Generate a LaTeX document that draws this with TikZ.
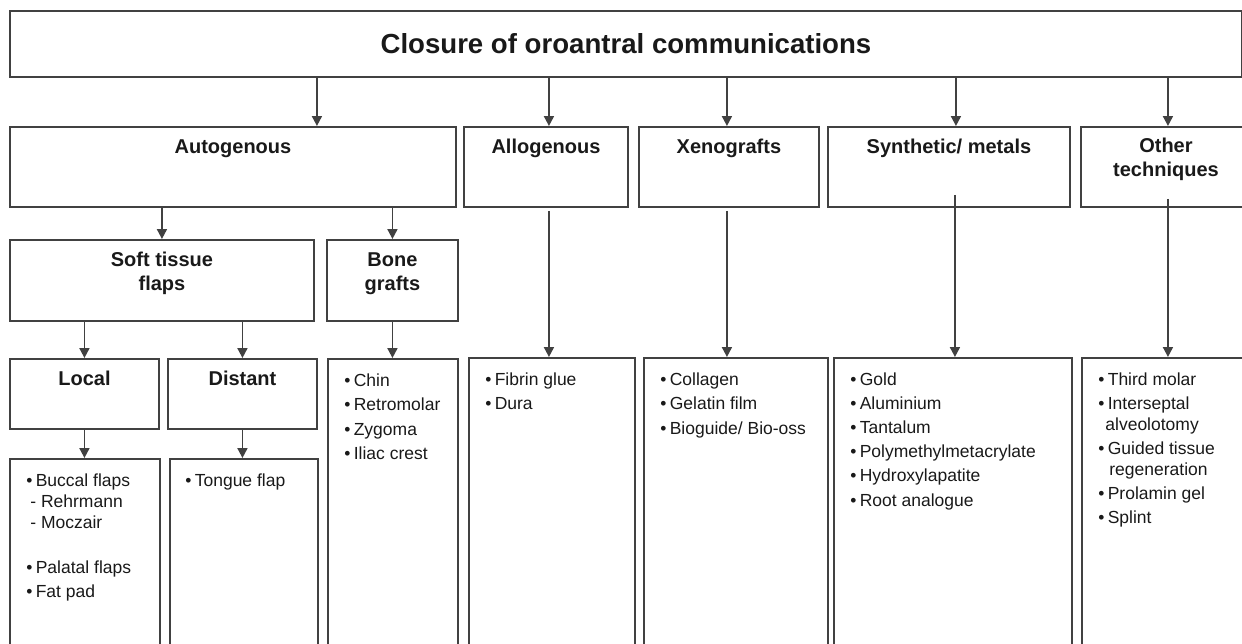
\documentclass[tikz,border=0pt]{standalone}
\usepackage{fontspec}
\setmainfont{Liberation Sans}
\usepackage{tikz}
\usetikzlibrary{arrows.meta}
\definecolor{linegray}{RGB}{65,65,65}
\definecolor{textgray}{RGB}{25,25,25}
\newcommand{\bul}{\makebox[4.7pt][l]{\textbullet}}
\tikzstyle{box} = [rectangle, draw=linegray, line width=0.95pt, anchor=north west, inner sep=0pt]
\tikzstyle{head} = [anchor=north, yshift=-6.5pt, inner sep=0pt, align=center, text=textgray, font=\bfseries\fontsize{10}{12}\selectfont]
\tikzstyle{items} = [anchor=north west, xshift=8.5pt, yshift=-7.5pt, inner sep=0pt, align=left, text=textgray, font=\fontsize{8.75}{10.5}\selectfont]
\tikzstyle{connect} = [line width=0.95pt, draw=linegray, -{Triangle[width=5pt,length=5pt]}]

\begin{document}
\begin{tikzpicture}[x=0.5pt, y=-0.5pt]
  \useasboundingbox (0,0) rectangle (1242,643);
  \clip (0,0) rectangle (1242,643);
  % top box
  \node (closure) [box, minimum width=616pt, minimum height=33pt, text=textgray, font=\bfseries\fontsize{13.8}{16}\selectfont] at (9,10) {Closure of oroantral communications};
  % second row
  \node (auto) [box, minimum width=223pt, minimum height=40pt, label={[head]north:Autogenous}] at (9,126) {};
  \node (allo) [box, minimum width=82pt, minimum height=40pt, label={[head]north:Allogenous}] at (463,126) {};
  \node (xeno) [box, minimum width=90pt, minimum height=40pt, label={[head]north:Xenografts}] at (638,126) {};
  \node (synth) [box, minimum width=121pt, minimum height=40pt, label={[head]north:Synthetic/ metals}] at (827,126) {};
  \node (other) [box, minimum width=85pt, minimum height=40pt, label={[head, yshift=0.5pt]north:Other\\techniques}] at (1080,126) {}; % runs past the edge
  % third row
  \node (soft) [box, minimum width=152pt, minimum height=40.5pt, label={[head]north:Soft tissue\\flaps}] at (9,239) {};
  \node (bone) [box, minimum width=65.5pt, minimum height=40.5pt, label={[head]north:Bone\\grafts}] at (326,239) {};
  % fourth row
  \node (local) [box, minimum width=74.5pt, minimum height=35pt, label={[head]north:Local}] at (9,358) {};
  \node (distant) [box, minimum width=74.5pt, minimum height=35pt, label={[head]north:Distant}] at (167,358) {};
  \node (bonelist) [box, minimum width=65pt, minimum height=150pt, label={[items]north west:{\bul Chin\\[1.75pt]\bul Retromolar\\[1.75pt]\bul Zygoma\\[1.75pt]\bul Iliac crest}}] at (327,358) {};
  \node (allolist) [box, minimum width=83pt, minimum height=150pt, label={[items]north west:{\bul Fibrin glue\\[1.75pt]\bul Dura}}] at (468,357) {};
  \node (xenolist) [box, minimum width=92pt, minimum height=150pt, label={[items]north west:{\bul Collagen\\[1.75pt]\bul Gelatin film\\[1.75pt]\bul Bioguide/ Bio-oss}}] at (643,357) {};
  \node (synthlist) [box, minimum width=119pt, minimum height=150pt, label={[items]north west:{\bul Gold\\[1.6pt]\bul Aluminium\\[1.6pt]\bul Tantalum\\[1.6pt]\bul Polymethylmetacrylate\\[1.6pt]\bul Hydroxylapatite\\[1.6pt]\bul Root analogue}}] at (833,357) {};
  \node (otherlist) [box, minimum width=85pt, minimum height=150pt, label={[items]north west:{\bul Third molar\\[1.5pt]\bul Interseptal\\\hspace*{3.5pt}alveolotomy\\[1.5pt]\bul Guided tissue\\\hspace*{5.5pt}regeneration\\[1.5pt]\bul Prolamin gel\\[1.5pt]\bul Splint}}] at (1081,357) {};
  % fifth row
  \node (locallist) [box, minimum width=75pt, minimum height=100pt, label={[items]north west:{\bul Buccal flaps\\\hspace*{2pt}- Rehrmann\\\hspace*{2pt}- Moczair\\[12pt]\bul Palatal flaps\\[1.5pt]\bul Fat pad}}] at (9,458) {};
  \node (distantlist) [box, minimum width=74pt, minimum height=100pt, label={[items, xshift=-0.5pt]north west:{\bul Tongue flap}}] at (169,458) {};

  % arrows from the top box
  \coordinate (inauto) at ([xshift=42pt]auto.north);
  \coordinate (inallo) at ([xshift=1.5pt]allo.north);
  \coordinate (inxeno) at ([xshift=-1pt]xeno.north);
  \coordinate (insynth) at ([xshift=3.5pt]synth.north);
  \coordinate (inother) at ([xshift=1pt]other.north);
  \foreach \n in {auto,allo,xeno,synth,other}
    \draw [connect] (closure.south -| in\n) -- (in\n);
  % arrows below
  \draw [connect] (soft.north |- auto.south) -- (soft.north);
  \draw [connect] (bone.north |- auto.south) -- (bone.north);
  \draw [connect] (local.north |- soft.south) -- (local.north);
  \draw [connect] (distant.north |- soft.south) -- (distant.north);
  \draw [connect] (bone.south) -- (bone.south |- bonelist.north);
  \draw [connect] (local.south) -- (local.south |- locallist.north);
  \draw [connect] (distant.south) -- (distant.south |- distantlist.north);
  \draw [connect] ([xshift=1.5pt,yshift=-1.5pt]allo.south) -- ([xshift=1.5pt]allo.south |- allolist.north);
  \draw [connect] ([xshift=-1pt,yshift=-1.5pt]xeno.south) -- ([xshift=-1pt]xeno.south |- xenolist.north);
  \coordinate (outsynth) at ([xshift=3pt,yshift=6.5pt]synth.south);   % starts inside the box
  \coordinate (outother) at ([xshift=1pt,yshift=4.5pt]other.south);
  \draw [connect] (outsynth) -- (outsynth |- synthlist.north);
  \draw [connect] (outother) -- (outother |- otherlist.north);
\end{tikzpicture}
\end{document}
